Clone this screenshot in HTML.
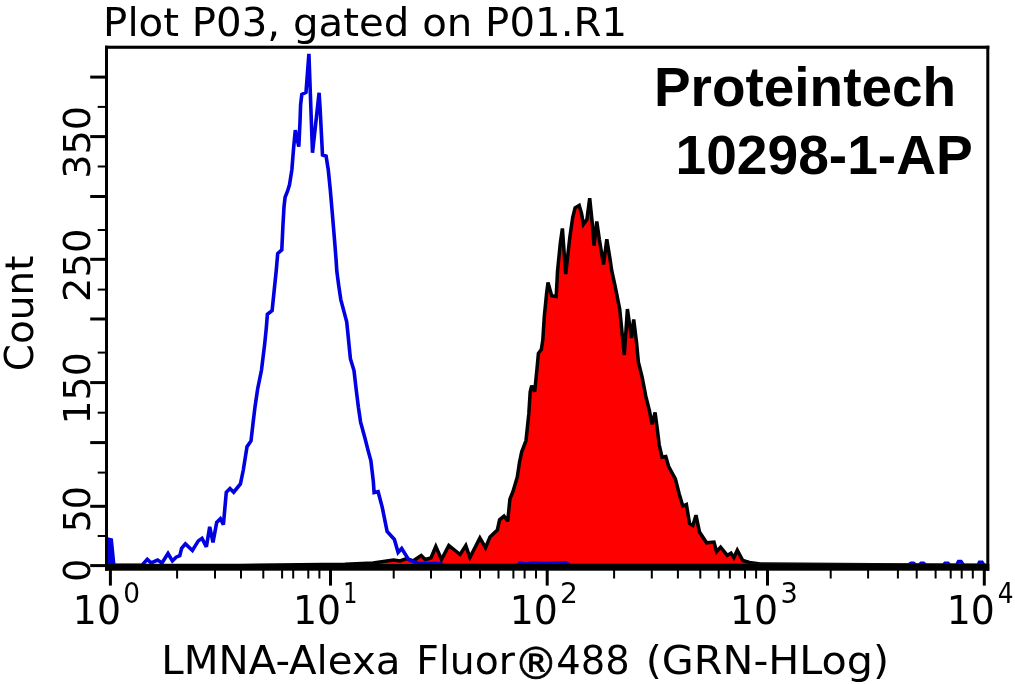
<!DOCTYPE html><html><head><meta charset="utf-8"><title>Plot P03</title><style>html,body{margin:0;padding:0;background:#fff}body{width:1015px;height:684px;overflow:hidden}svg{display:block}text{font-family:"DejaVu Sans", "Liberation Sans", sans-serif;font-size:40px;fill:#000}.b{font-family:"Liberation Sans", "DejaVu Sans", sans-serif;font-weight:bold;stroke:none}</style></head><body>
<svg width="1015" height="684" viewBox="0 0 1015 684">
<rect width="1015" height="684" fill="#fff"/>
<polygon points="108.0,565.5 240.0,565.4 300.0,564.8 345.0,564.3 373.0,563.0 393.6,560.0 400.0,561.0 406.6,558.5 413.0,561.0 421.2,555.5 425.2,559.5 430.9,558.0 435.8,546.5 441.5,559.5 448.8,545.5 460.1,554.5 465.8,545.5 469.9,557.5 479.9,538.0 485.5,547.7 490.0,537.0 497.3,530.1 499.6,519.8 504.0,516.1 507.7,521.3 509.9,499.1 512.9,491.7 517.3,476.9 519.5,462.2 521.7,451.8 526.0,440.5 528.8,413.9 530.2,391.7 531.7,385.8 534.7,391.7 536.9,369.6 538.4,353.3 541.3,349.5 542.8,340.0 544.3,316.5 546.5,294.3 548.0,282.5 551.7,295.8 556.2,296.5 557.5,271.5 560.3,243.3 562.4,228.5 565.7,274.0 569.8,237.4 572.7,217.3 575.1,207.8 579.2,205.4 581.6,213.7 583.4,224.4 586.9,219.6 589.7,198.3 592.3,223.2 594.0,245.7 596.8,221.4 599.4,239.8 603.5,264.5 606.8,239.2 610.0,258.7 611.8,271.0 615.3,286.9 619.7,309.1 624.3,355.0 627.4,309.1 631.5,338.0 633.7,319.5 636.5,342.0 638.4,362.2 642.1,376.9 645.8,396.2 649.5,410.9 652.0,424.2 655.1,412.4 657.3,429.0 659.2,444.8 662.1,457.3 665.8,456.6 668.8,466.9 675.4,478.8 679.1,493.5 682.8,506.0 686.4,504.5 689.6,523.7 692.8,525.5 696.0,515.2 699.5,532.0 706.6,542.8 714.0,542.1 716.6,551.7 720.6,547.2 727.3,555.4 731.0,553.1 733.9,557.6 737.3,550.2 742.8,560.5 749.5,562.5 760.0,564.0 986.0,565.5 986,568 108,568" fill="#ff0000" stroke="#000" stroke-width="3.5" stroke-linejoin="miter" stroke-miterlimit="2.6"/>
<polyline points="108.3,564.5 109.3,539.5 111.3,540.0 113.8,565.3 142.0,565.3 147.3,559.4 151.0,562.8 157.6,560.1 162.0,563.0 168.0,553.5 172.4,560.9 176.1,557.2 179.8,555.7 181.6,548.3 185.4,543.9 192.4,550.5 198.3,540.9 202.0,538.3 206.4,546.8 209.7,526.9 213.0,542.4 216.7,522.5 220.4,518.8 223.4,524.7 226.3,492.2 230.0,488.5 233.7,492.2 240.4,484.0 243.3,470.0 247.0,446.8 251.0,440.9 253.2,421.7 255.0,406.9 257.6,389.2 261.5,370.0 264.7,343.9 266.2,329.1 267.4,314.3 272.1,310.6 274.0,292.2 276.3,270.0 277.7,253.5 281.8,249.8 282.9,226.2 284.0,206.9 285.1,197.3 287.6,191.0 289.5,184.8 291.9,169.5 293.5,149.1 295.3,130.1 298.8,146.7 300.0,121.8 300.6,104.9 301.8,94.5 306.0,92.4 308.9,53.8 312.5,152.7 319.1,92.8 320.2,110.0 321.4,133.7 322.5,155.0 326.1,156.2 328.3,170.0 330.3,190.0 332.4,214.3 334.6,240.9 336.1,260.0 336.8,271.0 338.6,284.8 340.8,299.6 346.7,321.7 348.2,336.5 350.4,358.7 354.0,370.5 356.2,389.6 358.4,407.3 360.6,422.1 365.0,438.3 368.0,450.1 370.9,460.9 373.3,481.1 374.1,492.5 378.1,491.7 382.2,507.1 387.1,531.4 394.4,539.5 398.1,552.5 401.7,548.5 408.2,559.0 413.0,561.5 418.0,563.5 440.0,563.5 444.0,565.3 500.0,565.3 518.0,565.3 520.0,563.0 525.0,564.0 533.0,563.0 545.0,563.5 566.0,562.8 570.0,565.3 700.0,565.3 908.0,565.3 911.0,563.4 913.5,563.4 916.0,565.3 919.0,565.3 921.0,563.4 923.5,563.4 926.0,565.3 943.0,565.3 945.0,563.4 948.0,563.4 950.0,565.3 956.5,565.3 958.5,561.6 961.0,561.6 963.5,565.3 978.0,565.3 979.5,562.3 982.0,562.3 984.0,565.3 986.0,565.3" fill="none" stroke="#0000e0" stroke-width="3.6" stroke-linejoin="miter" stroke-miterlimit="2.6"/>
<polygon points="108,565 108.6,539 111.6,539.5 114,565" fill="#0000e0"/>
<text style="font-size:38.3px" transform="translate(103.12,35.60) scale(1.0516,1)">Plot P03, gated on P01.R1</text>
<text style="font-size:38.4px" transform="translate(161.32,673.60) scale(1.0498,1)">LMNA-Alexa</text>
<text style="font-size:38.4px" transform="translate(416.31,673.60) scale(1.0248,1)">Fluor</text>
<text style="font-size:38.4px;stroke:#000;stroke-width:0.5px" transform="translate(513.75,678.60) scale(1.1563)">®</text>
<text style="font-size:38.4px" transform="translate(556.30,673.60) scale(1.0020,1)">488</text>
<text style="font-size:38.4px" transform="translate(645.77,673.60) scale(1.0750,1)">(GRN-HLog)</text>
<text style="font-size:38.4px;stroke:none" transform="translate(32.60,371.23) rotate(-90) scale(1.0145,1)">Count</text>
<text style="font-size:38.0px;stroke:none" transform="translate(90.30,178.68) rotate(-90) scale(1.0022,1)">350</text>
<text style="font-size:38.0px;stroke:none" transform="translate(90.30,301.90) rotate(-90) scale(1.0125,1)">250</text>
<text style="font-size:38.0px;stroke:none" transform="translate(90.30,424.55) rotate(-90) scale(0.9975,1)">150</text>
<text style="font-size:38.0px;stroke:none" transform="translate(90.30,532.37) rotate(-90) scale(0.9550,1)">50</text>
<text style="font-size:38.0px;stroke:none" transform="translate(90.30,581.84) rotate(-90) scale(0.9442,1)">0</text>
<text style="font-size:38.8px" transform="translate(72.86,624.00) scale(0.9750,1)">10</text>
<text class="s" style="font-size:28.5px" transform="translate(123.35,603.20) scale(0.9255,1)">0</text>
<text style="font-size:38.8px" transform="translate(292.96,624.00) scale(0.9750,1)">10</text>
<text class="s" style="font-size:28.5px" transform="translate(343.27,603.20) scale(0.7779,1)">1</text>
<text style="font-size:38.8px" transform="translate(509.66,624.00) scale(0.9750,1)">10</text>
<text class="s" style="font-size:28.5px" transform="translate(560.05,603.20) scale(0.9852,1)">2</text>
<text style="font-size:38.8px" transform="translate(729.96,624.00) scale(0.9750,1)">10</text>
<text class="s" style="font-size:28.5px" transform="translate(780.40,603.20) scale(0.9544,1)">3</text>
<text style="font-size:38.8px" transform="translate(946.76,624.00) scale(0.9750,1)">10</text>
<text class="s" style="font-size:28.5px" transform="translate(997.73,603.20) scale(0.8726,1)">4</text>
<text class="b" style="font-size:55.7px" transform="translate(653.97,106.40) scale(0.9862,1)">Proteintech</text>
<text class="b" style="font-size:55.7px" transform="translate(675.55,173.50) scale(0.9899,1)">10298-1-AP</text>
<rect x="105" y="564" width="884.3" height="6.7" fill="#000"/>
<rect x="105" y="45.7" width="3" height="525" fill="#000"/>
<rect x="986.3" y="45.7" width="3" height="525" fill="#000"/>
<rect x="105" y="45.7" width="884.3" height="3.1" fill="#000"/>
<rect x="90.2" y="75.6" width="15.5" height="3" fill="#000"/>
<rect x="90.2" y="135.1" width="15.5" height="3" fill="#000"/>
<rect x="90.2" y="195.0" width="15.5" height="3" fill="#000"/>
<rect x="90.2" y="257.8" width="15.5" height="3" fill="#000"/>
<rect x="90.2" y="317.5" width="15.5" height="3" fill="#000"/>
<rect x="90.2" y="381.1" width="15.5" height="3" fill="#000"/>
<rect x="90.2" y="441.1" width="15.5" height="3" fill="#000"/>
<rect x="90.2" y="504.8" width="15.5" height="3" fill="#000"/>
<rect x="90.2" y="564.1" width="15.5" height="3" fill="#000"/>
<rect x="97.7" y="105.9" width="8" height="2" fill="#000"/>
<rect x="97.7" y="165.5" width="8" height="2" fill="#000"/>
<rect x="97.7" y="229.0" width="8" height="2" fill="#000"/>
<rect x="97.7" y="288.6" width="8" height="2" fill="#000"/>
<rect x="97.7" y="351.6" width="8" height="2" fill="#000"/>
<rect x="97.7" y="411.7" width="8" height="2" fill="#000"/>
<rect x="97.7" y="471.6" width="8" height="2" fill="#000"/>
<rect x="97.7" y="535.0" width="8" height="2" fill="#000"/>
<rect x="108.9" y="570" width="3" height="15.6" fill="#000"/>
<rect x="329.0" y="570" width="3" height="15.6" fill="#000"/>
<rect x="545.7" y="570" width="3" height="15.6" fill="#000"/>
<rect x="766.0" y="570" width="3" height="15.6" fill="#000"/>
<rect x="982.8" y="570" width="3" height="15.6" fill="#000"/>
<rect x="176.1" y="570" width="2" height="8.5" fill="#000"/>
<rect x="214.0" y="570" width="2" height="8.5" fill="#000"/>
<rect x="240.0" y="570" width="2" height="8.5" fill="#000"/>
<rect x="262.3" y="570" width="2" height="8.5" fill="#000"/>
<rect x="281.1" y="570" width="2" height="8.5" fill="#000"/>
<rect x="292.2" y="570" width="2" height="8.5" fill="#000"/>
<rect x="307.3" y="570" width="2" height="8.5" fill="#000"/>
<rect x="318.4" y="570" width="2" height="8.5" fill="#000"/>
<rect x="392.7" y="570" width="2" height="8.5" fill="#000"/>
<rect x="430.0" y="570" width="2" height="8.5" fill="#000"/>
<rect x="460.0" y="570" width="2" height="8.5" fill="#000"/>
<rect x="479.0" y="570" width="2" height="8.5" fill="#000"/>
<rect x="497.5" y="570" width="2" height="8.5" fill="#000"/>
<rect x="512.4" y="570" width="2" height="8.5" fill="#000"/>
<rect x="523.6" y="570" width="2" height="8.5" fill="#000"/>
<rect x="535.0" y="570" width="2" height="8.5" fill="#000"/>
<rect x="613.1" y="570" width="2" height="8.5" fill="#000"/>
<rect x="650.8" y="570" width="2" height="8.5" fill="#000"/>
<rect x="676.9" y="570" width="2" height="8.5" fill="#000"/>
<rect x="699.3" y="570" width="2" height="8.5" fill="#000"/>
<rect x="717.7" y="570" width="2" height="8.5" fill="#000"/>
<rect x="728.9" y="570" width="2" height="8.5" fill="#000"/>
<rect x="744.0" y="570" width="2" height="8.5" fill="#000"/>
<rect x="755.1" y="570" width="2" height="8.5" fill="#000"/>
<rect x="829.7" y="570" width="2" height="8.5" fill="#000"/>
<rect x="867.1" y="570" width="2" height="8.5" fill="#000"/>
<rect x="896.9" y="570" width="2" height="8.5" fill="#000"/>
<rect x="915.7" y="570" width="2" height="8.5" fill="#000"/>
<rect x="934.6" y="570" width="2" height="8.5" fill="#000"/>
<rect x="949.7" y="570" width="2" height="8.5" fill="#000"/>
<rect x="960.7" y="570" width="2" height="8.5" fill="#000"/>
<rect x="971.8" y="570" width="2" height="8.5" fill="#000"/>
</svg></body></html>
